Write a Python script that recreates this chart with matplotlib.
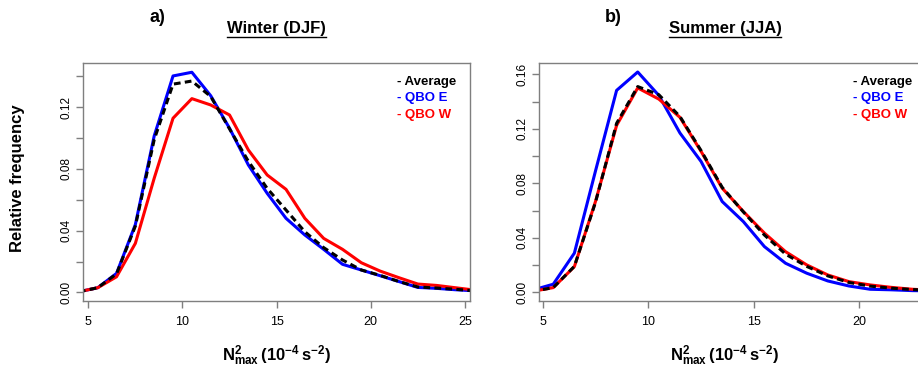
import matplotlib
matplotlib.use('Agg')
from matplotlib import pyplot as plt
from matplotlib import font_manager
from matplotlib.ticker import FixedLocator, FuncFormatter

plt.rcParams['font.family'] = ['Liberation Sans', 'DejaVu Sans']
plt.rcParams['mathtext.fontset'] = 'custom'
plt.rcParams['mathtext.bf'] = 'Liberation Sans:bold'
plt.rcParams['mathtext.rm'] = 'Liberation Sans:bold'

names = {f.name for f in font_manager.fontManager.ttflist}
narrow = ['Liberation Sans Narrow'] if 'Liberation Sans Narrow' in names else []
narrow_family = narrow + ['Liberation Sans', 'DejaVu Sans']

# N2max bin centres (1e-4 s^-2)
bins_djf = [4.5, 5.5, 6.5, 7.5, 8.5, 9.5, 10.5, 11.5, 12.5, 13.5, 14.5, 15.5,
            16.5, 17.5, 18.5, 19.5, 20.5, 21.5, 22.5, 23.5, 24.5, 25.5]
avg_djf = [0.0004, 0.003, 0.012, 0.043, 0.099, 0.135, 0.137, 0.127, 0.106, 0.085,
           0.0674, 0.0534, 0.0393, 0.029, 0.021, 0.0145, 0.011, 0.007, 0.0035,
           0.0028, 0.002, 0.001]
qboe_djf = [0.0004, 0.003, 0.0123, 0.044, 0.1014, 0.1403, 0.1427, 0.1275, 0.1064,
            0.0826, 0.0642, 0.048, 0.0372, 0.0279, 0.0182, 0.0145, 0.0108, 0.007,
            0.0032, 0.0026, 0.0017, 0.001]
qbow_djf = [0.0004, 0.003, 0.0101, 0.0318, 0.074, 0.1129, 0.1256, 0.1215, 0.115,
            0.0923, 0.0761, 0.0668, 0.048, 0.035, 0.0279, 0.0192, 0.0138, 0.0095,
            0.0054, 0.0045, 0.003, 0.0015]

bins_jja = [4.5, 5.5, 6.5, 7.5, 8.5, 9.5, 10.5, 11.5, 12.5, 13.5, 14.5, 15.5,
            16.5, 17.5, 18.5, 19.5, 20.5, 21.5, 22.5, 23.5]
avg_jja = [0.0006, 0.0034, 0.019, 0.066, 0.124, 0.151, 0.145, 0.129, 0.104, 0.077,
           0.059, 0.042, 0.028, 0.019, 0.012, 0.0072, 0.0045, 0.003, 0.002, 0.0012]
qboe_jja = [0.0015, 0.0059, 0.0287, 0.089, 0.1482, 0.1617, 0.1445, 0.1169, 0.096,
            0.0666, 0.0519, 0.0335, 0.0213, 0.014, 0.0083, 0.0046, 0.0022, 0.0018,
            0.0012, 0.001]
qbow_jja = [0.0006, 0.0034, 0.0188, 0.0666, 0.1225, 0.15, 0.1418, 0.1284, 0.1034,
            0.0764, 0.0593, 0.0434, 0.0298, 0.0201, 0.0127, 0.0078, 0.0054, 0.0036,
            0.0022, 0.0015]

panels = [
    ('a)', 'Winter (DJF)', bins_djf, avg_djf, qboe_djf, qbow_djf,
     [5, 10, 15, 20, 25], [0, 0.02, 0.04, 0.06, 0.08, 0.10, 0.12, 0.14],
     (4.735, 25.27), (-0.0054, 0.1487)),
    ('b)', 'Summer (JJA)', bins_jja, avg_jja, qboe_jja, qbow_jja,
     [5, 10, 15, 20], [0, 0.02, 0.04, 0.06, 0.08, 0.10, 0.12, 0.14, 0.16],
     (4.84, 23.15), (-0.0062, 0.1683)),
]

W, H = 918, 372
fig = plt.figure(figsize=(W / 100, H / 100), dpi=100)
frame_color = '#7f7f7f'
tick_size = 10 if narrow else 9

for i, (letter, title, x, avg, qe, qw, xt, yt, xl, yl) in enumerate(panels):
    left_px = 83.3 if i == 0 else 539.3
    ax = fig.add_axes([left_px / W, (H - 300.7) / H, 386.7 / W, 237.7 / H])
    ax.plot(x, qe, color='#0000ff', lw=2.2)
    ax.plot(x, qw, color='#ff0000', lw=2.2)
    ax.plot(x, avg, color='black', lw=2.2, dashes=(2.2, 1.4))
    ax.set_xlim(*xl)
    ax.set_ylim(*yl)
    for s in ax.spines.values():
        s.set_color(frame_color)
        s.set_linewidth(1.0)
    ax.xaxis.set_major_locator(FixedLocator(xt))
    ax.yaxis.set_major_locator(FixedLocator(yt))
    ax.yaxis.set_major_formatter(FuncFormatter(
        lambda v, p: f'{v:.2f}' if round(v * 100) % 4 == 0 else ''))
    ax.tick_params(direction='out', length=5, width=1, color=frame_color,
                   labelsize=8.5, pad=3)
    ax.tick_params(axis='x', pad=6)
    for lab in ax.get_xticklabels():
        lab.set_fontfamily(narrow_family)
        lab.set_fontsize(tick_size)
    for lab in ax.get_yticklabels():
        lab.set_rotation(90)
        lab.set_va('center')

    # legend text
    lx = 397 if i == 0 else 852.7
    for k, (lab, col) in enumerate([('- Average', 'black'), ('- QBO E', '#0000ff'),
                                     ('- QBO W', '#ff0000')]):
        fig.text(lx / W, 1 - (81.7 + 16.8 * k) / H, lab, color=col,
                 fontsize=9.5, fontweight='bold', va='center', ha='left')

    cx = (left_px + 193.3) / W if i == 0 else 725 / W
    t = fig.text(cx, 1 - 28 / H, title, fontsize=13 if narrow else 12,
                 fontweight='bold', ha='center', va='center', family=narrow_family)
    fig.canvas.draw()
    bb = t.get_window_extent()
    uy = (bb.y0 - 1) / H
    fig.add_artist(plt.Line2D([bb.x0 / W, bb.x1 / W], [uy, uy], color='black',
                              lw=1.0, transform=fig.transFigure))
    fig.text((157 if i == 0 else 613) / W, 1 - 18 / H, letter, fontsize=13,
             fontweight='bold', ha='center', va='center', family=narrow_family)
    fig.text(cx, 1 - 356 / H,
             r'$\mathbf{N^{2}_{max}}\,(\mathbf{10^{-4}\,s^{-2}})$',
             fontsize=12, ha='center', va='center')

fig.text(18 / W, 1 - 178 / H, 'Relative frequency', rotation=90, fontsize=12,
         fontweight='bold', ha='center', va='center')

fig.savefig('out.png', dpi=100)
